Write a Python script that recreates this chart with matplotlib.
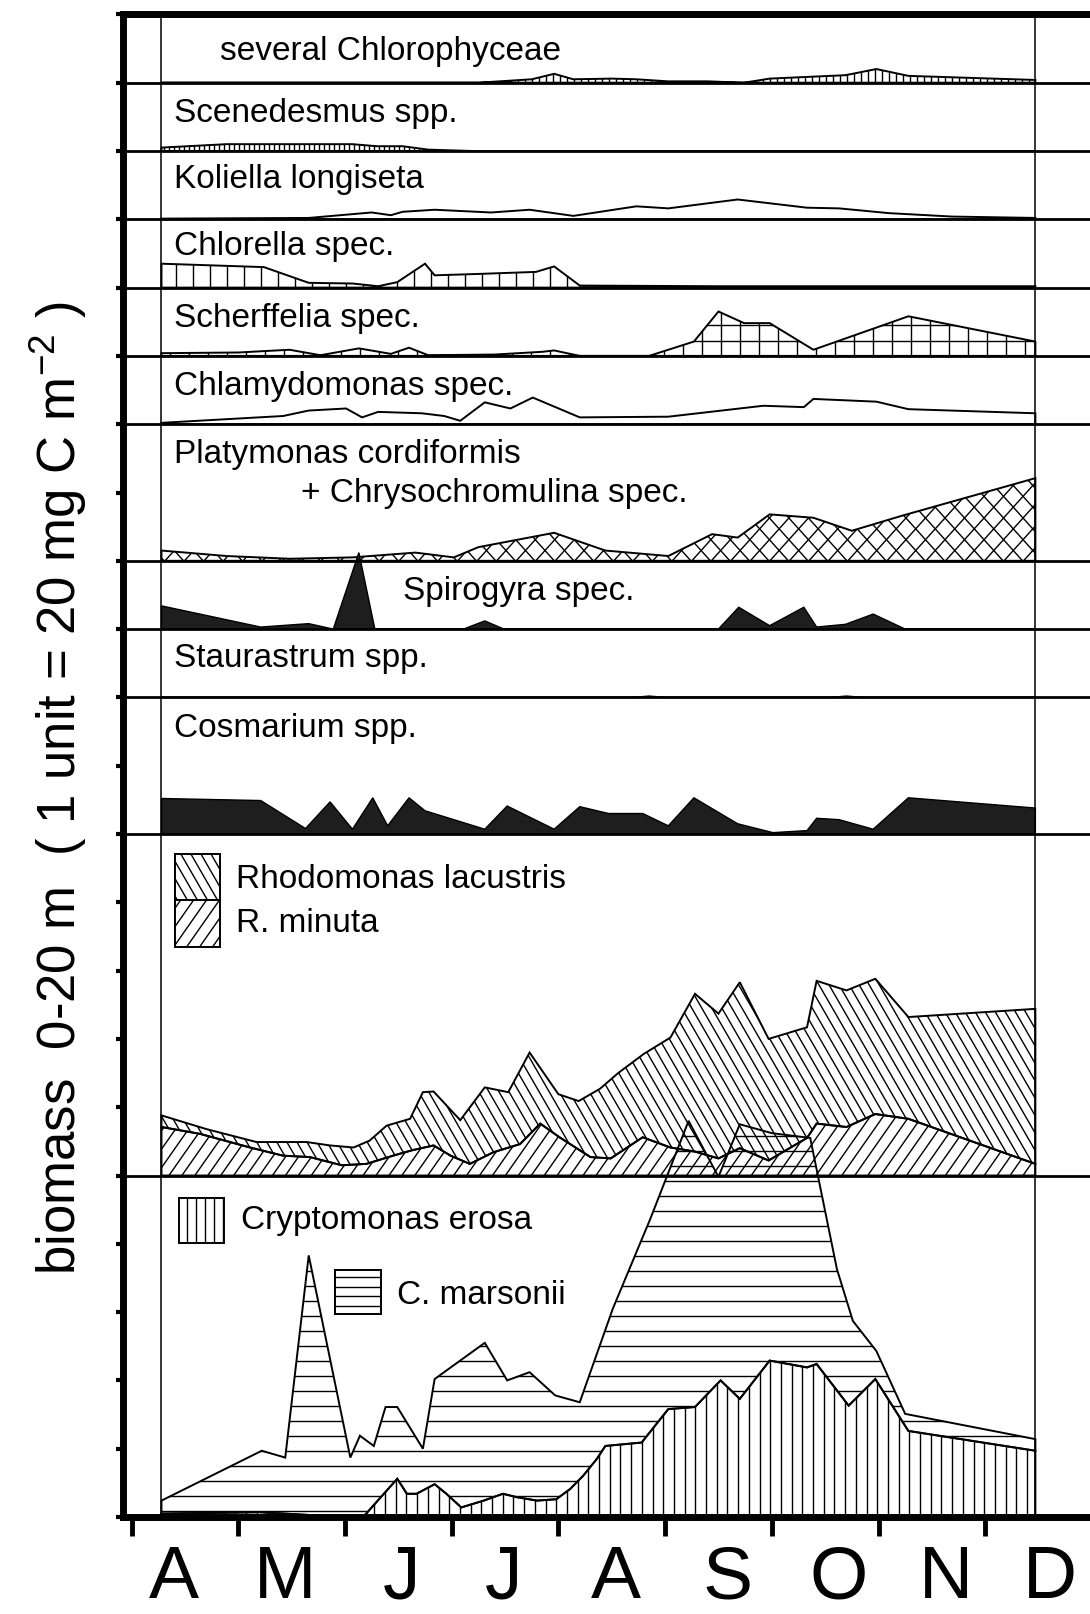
import numpy as np
import matplotlib
matplotlib.use("Agg")
import matplotlib.pyplot as plt
from matplotlib.patches import Polygon, Rectangle
from matplotlib.collections import LineCollection
from matplotlib.transforms import IdentityTransform

plt.rcParams['font.family'] = ['Liberation Sans', 'DejaVu Sans']
plt.rcParams['mathtext.default'] = 'regular'

# time axis in months after 1 April
months = ["A", "M", "J", "J", "A", "S", "O", "N", "D"]
month_label_pos = [0.40, 1.44, 2.53, 3.49, 4.54, 5.59, 6.63, 7.63, 8.61]
t_first, t_last = 0.28, 8.47

# biomass in units (1 unit = 20 mg C m-2), each panel relative to its own base
chloro_t = [0.28, 2.0, 3.25, 3.75, 3.96, 4.14, 4.50, 4.73, 5.03, 5.40, 5.74, 5.98, 6.69, 6.98, 7.28, 8.47]
chloro_v = [0.0, 0.0, 0.0, 0.05, 0.13, 0.05, 0.06, 0.05, 0.02, 0.02, 0.0, 0.06, 0.11, 0.20, 0.10, 0.04]

scen_t = [0.28, 0.89, 2.07, 2.30, 2.54, 2.78, 3.2, 8.47]
scen_v = [0.05, 0.10, 0.10, 0.07, 0.07, 0.02, 0.0, 0.0]

koli_t = [0.28, 1.66, 2.25, 2.43, 2.54, 2.84, 3.37, 3.73, 4.14, 4.73, 5.03, 5.68, 6.33, 6.63, 7.10, 7.69, 8.47]
koli_v = [0.01, 0.02, 0.10, 0.06, 0.11, 0.14, 0.10, 0.14, 0.05, 0.19, 0.16, 0.29, 0.17, 0.16, 0.09, 0.04, 0.02]

chlorella_t = [0.28, 1.24, 1.66, 2.07, 2.31, 2.49, 2.75, 2.84, 3.25, 3.79, 3.96, 4.20, 5.5, 6.5, 7.5, 8.47]
chlorella_v = [0.35, 0.30, 0.07, 0.06, 0.02, 0.08, 0.35, 0.18, 0.20, 0.23, 0.31, 0.03, 0.02, 0.02, 0.02, 0.02]

scher_t = [0.28, 1.0, 1.48, 1.77, 2.13, 2.43, 2.60, 2.78, 3.40, 3.85, 3.96, 4.20, 4.85, 5.27, 5.50, 5.74, 5.98, 6.39, 7.28, 8.47]
scher_v = [0.04, 0.05, 0.09, 0.01, 0.11, 0.03, 0.12, 0.01, 0.02, 0.06, 0.08, 0.0, 0.0, 0.21, 0.65, 0.48, 0.48, 0.09, 0.58, 0.21]

chlamy_t = [0.28, 1.42, 1.66, 2.01, 2.16, 2.31, 2.72, 2.93, 3.08, 3.31, 3.55, 3.76, 4.20, 5.03, 5.92, 6.30, 6.39, 6.98, 7.28, 8.47]
chlamy_v = [0.02, 0.12, 0.20, 0.23, 0.10, 0.18, 0.16, 0.12, 0.05, 0.32, 0.23, 0.39, 0.10, 0.11, 0.27, 0.25, 0.37, 0.33, 0.22, 0.16]

platy_t = [0.28, 0.89, 1.48, 2.07, 2.66, 3.02, 3.25, 3.96, 4.44, 5.03, 5.44, 5.68, 5.98, 6.39, 6.75, 7.22, 8.47]
platy_v = [0.15, 0.07, 0.03, 0.05, 0.12, 0.05, 0.20, 0.41, 0.15, 0.07, 0.39, 0.34, 0.68, 0.63, 0.44, 0.66, 1.21]

spiro_t = [0.28, 1.21, 1.66, 1.89, 2.13, 2.28, 3.11, 3.31, 3.49, 5.50, 5.69, 5.98, 6.30, 6.42, 6.69, 6.95, 7.25, 8.47]
spiro_v = [0.34, 0.03, 0.08, 0.0, 1.12, 0.0, 0.0, 0.12, 0.0, 0.0, 0.32, 0.05, 0.32, 0.03, 0.07, 0.22, 0.0, 0.0]

staur_t = [0.28, 4.70, 4.85, 5.00, 6.55, 6.70, 6.85, 8.47]
staur_v = [0.0, 0.0, 0.02, 0.0, 0.0, 0.02, 0.0, 0.0]

cosm_t = [0.28, 1.21, 1.63, 1.86, 2.07, 2.26, 2.40, 2.60, 2.75, 3.31, 3.52, 3.96, 4.20, 4.47, 4.79, 5.03, 5.27,
          5.68, 6.01, 6.33, 6.42, 6.63, 6.95, 7.28, 8.47]
cosm_v = [0.52, 0.49, 0.08, 0.47, 0.07, 0.53, 0.12, 0.53, 0.34, 0.07, 0.41, 0.07, 0.40, 0.30, 0.30, 0.12, 0.53,
          0.15, 0.02, 0.05, 0.23, 0.21, 0.07, 0.53, 0.38]

# Rhodomonas: R. minuta below, R. lacustris stacked on top (total)
minuta_t = [0.28, 0.64, 1.11, 1.42, 1.67, 1.97, 2.20, 2.45, 2.63, 2.83, 2.99, 3.17, 3.39, 3.64, 3.83, 4.01, 4.30,
            4.49, 4.79, 5.05, 5.28, 5.50, 5.70, 5.97, 6.33, 6.42, 6.70, 6.97, 7.28, 8.47]
minuta_v = [0.71, 0.61, 0.41, 0.29, 0.27, 0.15, 0.17, 0.29, 0.37, 0.44, 0.29, 0.17, 0.34, 0.46, 0.76, 0.56, 0.27,
            0.25, 0.56, 0.41, 0.35, 0.25, 0.40, 0.22, 0.55, 0.76, 0.71, 0.90, 0.83, 0.17]
rhodo_t = [0.28, 0.70, 1.17, 1.64, 1.86, 2.08, 2.23, 2.39, 2.61, 2.73, 2.83, 3.08, 3.31, 3.53, 3.73, 4.00, 4.19,
           4.39, 4.56, 4.80, 5.05, 5.28, 5.50, 5.70, 5.97, 6.33, 6.42, 6.70, 6.97, 7.28, 8.47]
rhodo_total = [0.88, 0.68, 0.49, 0.49, 0.44, 0.41, 0.51, 0.73, 0.83, 1.22, 1.23, 0.81, 1.29, 1.22, 1.80, 1.19, 1.09,
               1.27, 1.50, 1.78, 2.02, 2.66, 2.37, 2.83, 2.00, 2.17, 2.85, 2.71, 2.88, 2.32, 2.44]

# Cryptomonas: C. erosa below, C. marsonii stacked on top
erosa_t = [0.28, 1.2, 2.0, 2.17, 2.49, 2.58, 2.67, 2.84, 2.95, 3.09, 3.30, 3.48, 3.61, 3.80, 3.98, 4.11, 4.23,
           4.36, 4.44, 4.78, 5.03, 5.28, 5.52, 5.70, 5.98, 6.33, 6.42, 6.72, 6.97, 7.28, 8.47]
erosa_v = [0.05, 0.07, 0.0, 0.0, 0.56, 0.34, 0.34, 0.48, 0.34, 0.14, 0.24, 0.34, 0.29, 0.24, 0.26, 0.41, 0.60,
           0.85, 1.04, 1.09, 1.58, 1.61, 2.00, 1.73, 2.29, 2.19, 2.24, 1.63, 2.02, 1.26, 0.97]
crypto_t = [0.28, 1.22, 1.44, 1.66, 2.05, 2.14, 2.27, 2.38, 2.49, 2.73, 2.84, 3.31, 3.52, 3.73, 3.97, 4.20, 4.51,
            4.86, 5.22, 5.50, 5.70, 6.00, 6.36, 6.61, 6.76, 6.98, 7.25, 8.47]
crypto_total = [0.24, 0.97, 0.87, 3.83, 0.87, 1.19, 1.04, 1.61, 1.61, 1.00, 2.02, 2.55, 2.00, 2.12, 1.78, 1.68, 3.05,
                4.36, 5.80, 4.98, 5.75, 5.62, 5.55, 3.63, 2.87, 2.43, 1.51, 1.14]

panel_bounds = [5, 10, 12, 13, 14, 16, 17, 18, 19, 20, 21]

W_PX, H_PX = 1090, 1615
fig = plt.figure(figsize=(W_PX / 100, H_PX / 100), dpi=100)
ax = fig.add_axes([0.11284, 0.060062, 0.8899, 0.9304])
ax.set_xlim(-0.0806, 9.01)
ax.set_ylim(0, 22)


def layer(t, v, base, t_low=None, v_low=None):
    t = np.asarray(t, float)
    top = base + np.asarray(v, float)
    if t_low is None:
        xs = np.concatenate([t, t[::-1]])
        ys = np.concatenate([top, np.full(len(t), base)])
    else:
        tl = np.asarray(t_low, float)
        lo = base + np.asarray(v_low, float)
        xs = np.concatenate([t, tl[::-1]])
        ys = np.concatenate([top, lo[::-1]])
    return np.column_stack([xs, ys])


def add_hatch(patch, angles, spacing, lw=1.0):
    # hatch lines in pixel space, clipped to the patch
    L = np.hypot(W_PX, H_PX)
    c = np.array([W_PX / 2, H_PX / 2])
    segs = []
    for ang in angles:
        th = np.deg2rad(ang)
        d = np.array([np.cos(th), np.sin(th)])
        nrm = np.array([-d[1], d[0]])
        for k in np.arange(-L / 2, L / 2, spacing):
            p = c + nrm * k
            segs.append([p - d * L, p + d * L])
    lc = LineCollection(segs, colors='k', linewidths=lw, transform=IdentityTransform(),
                        zorder=patch.get_zorder() + 0.05)
    ax.add_collection(lc, autolim=False)
    lc.set_clip_path(patch)


def area(xy, face='none', hatches=(), lw=1.4):
    p = Polygon(xy, closed=True, facecolor=face, edgecolor='k', lw=lw, zorder=2.5, joinstyle='miter')
    ax.add_patch(p)
    for angles, spacing in hatches:
        add_hatch(p, angles, spacing)
    return p


def key_box(x0, x1, y0, y1, hatches):
    r = Rectangle((x0, y0), x1 - x0, y1 - y0, facecolor='white', edgecolor='k', lw=1.4, zorder=3)
    ax.add_patch(r)
    for angles, spacing in hatches:
        add_hatch(r, angles, spacing)


dark = '#1e1e1e'
VERT = ([90], 10.7)

# upper panels
area(layer(chloro_t, chloro_v, 21), hatches=[([90], 7)])
area(layer(scen_t, scen_v, 20), hatches=[([90], 5)])
area(layer(koli_t, koli_v, 19))
area(layer(chlorella_t, chlorella_v, 18), hatches=[([90], 17)])
area(layer(scher_t, scher_v, 17), hatches=[([90], 19), ([0], 16)])
area(layer(chlamy_t, chlamy_v, 16))
area(layer(platy_t, platy_v, 14), hatches=[([48, -48], 14.5)])
area(layer(spiro_t, spiro_v, 13), face=dark, lw=1.0)
area(layer(staur_t, staur_v, 12), face=dark, lw=1.0)
area(layer(cosm_t, cosm_v, 10), face=dark, lw=1.0)

# Rhodomonas panel
LAC = ([-60], 8.7)
MIN = ([55], 10.6)
area(layer(minuta_t, minuta_v, 5), hatches=[MIN])
area(layer(rhodo_t, rhodo_total, 5, minuta_t, minuta_v), hatches=[LAC])

# Cryptomonas panel
MAR = ([0], 15)
area(layer(erosa_t, erosa_v, 0), hatches=[VERT])
area(layer(crypto_t, crypto_total, 0, erosa_t, erosa_v), hatches=[MAR])

# legend keys
key_box(0.41, 0.83, 9.03, 9.70, [LAC])
key_box(0.41, 0.83, 8.35, 9.03, [MIN])
key_box(0.44, 0.865, 4.01, 4.67, [([90], 9)])
key_box(1.91, 2.34, 2.97, 3.62, [([0], 9.5)])

# panel separators and data-range lines
for b in panel_bounds:
    ax.axhline(b, color='k', lw=2.0, zorder=4)
ax.axvline(t_first, color='k', lw=1.1, zorder=4)
ax.axvline(t_last, color='k', lw=1.1, zorder=4)

labels = [
    (0.83, 21.35, "several Chlorophyceae"),
    (0.40, 20.44, "Scenedesmus spp."),
    (0.40, 19.47, "Koliella longiseta"),
    (0.40, 18.49, "Chlorella spec."),
    (0.40, 17.44, "Scherffelia spec."),
    (0.40, 16.44, "Chlamydomonas spec."),
    (0.40, 15.44, "Platymonas cordiformis"),
    (1.59, 14.88, "+ Chrysochromulina spec."),
    (2.54, 13.44, "Spirogyra spec."),
    (0.40, 12.46, "Staurastrum spp."),
    (0.40, 11.44, "Cosmarium spp."),
    (0.98, 9.22, "Rhodomonas lacustris"),
    (0.98, 8.58, "R. minuta"),
    (1.03, 4.23, "Cryptomonas erosa"),
    (2.49, 3.13, "C. marsonii"),
]
for x, y, s in labels:
    ax.text(x, y, s, fontsize=24, ha='left', va='baseline', zorder=5)

# axes styling
ax.spines['right'].set_visible(False)
for s in ['left', 'top', 'bottom']:
    ax.spines[s].set_linewidth(5)
    ax.spines[s].set_zorder(6)
ax.set_yticks(range(23))
ax.set_yticklabels([])
ax.set_xticks(range(10))
ax.set_xticklabels([])
ax.tick_params(axis='y', direction='out', length=5, width=3)
ax.tick_params(axis='x', direction='out', length=14, width=3.5)

for x, m in zip(month_label_pos, months):
    ax.text(x, -0.0533, m, fontsize=54, ha='center', va='baseline',
            transform=ax.get_xaxis_transform(), clip_on=False)

fig.text(58 / W_PX, 1 - 788 / H_PX,
         "biomass  0-20 m  ( 1 unit = 20 mg C m$^{-2}$ )",
         rotation=90, ha='center', va='center', fontsize=38)

fig.savefig("out.png", dpi=100, facecolor='white')
